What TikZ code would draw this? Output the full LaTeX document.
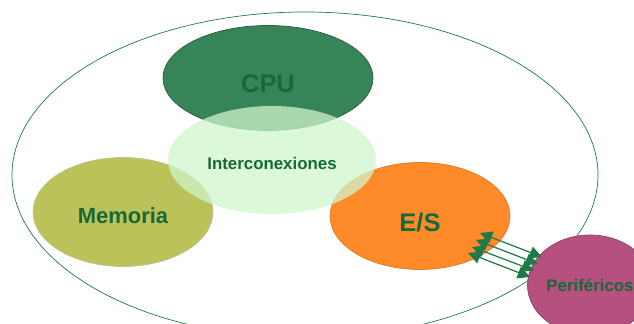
\documentclass[tikz,border=0pt]{standalone}
\usepackage{fontspec}
\setmainfont{Liberation Sans}
\definecolor{sysline}{HTML}{1F7A4A}
\definecolor{labelgreen}{HTML}{17683A}
\definecolor{cpufill}{HTML}{388459}
\definecolor{icfill}{HTML}{CFF5CB}
\definecolor{memfill}{HTML}{BCC25A}
\definecolor{esfill}{HTML}{FF8A2A}
\definecolor{perfill}{HTML}{B5507F}
\usetikzlibrary{shapes,arrows.meta,positioning,calc}

\begin{document}
\begin{tikzpicture}[
  block/.style={ellipse, inner sep=0pt, font=\bfseries, text=labelgreen, text depth=0pt},
  bus/.style={sysline, line width=0.7pt, {Triangle[length=7pt,width=7pt]}-{Triangle[length=7pt,width=7pt]}}
]
\useasboundingbox (0,0) rectangle (12.68,6.48);
\clip (0,0) rectangle (12.68,6.48);
% sistema
\draw[sysline, thin] (6.1,2.98) ellipse (5.86 and 3.26);
% bloques
\node[block, fill=memfill, draw=memfill!80!black!60, minimum width=3.6cm, minimum height=2.18cm,
  font=\fontsize{12.5}{14}\bfseries, text height=13.6pt]
  (mem) at (2.46,2.24) {Memoria};
\node[block, fill=esfill, draw=esfill!90!black, minimum width=3.6cm, minimum height=2.14cm,
  font=\fontsize{14.5}{16}\bfseries, text height=18pt]
  (es) at (8.4,2.16) {E/S};
\node[block, fill=cpufill, draw=cpufill!70!black, minimum width=4.2cm, minimum height=2.1cm,
  font=\fontsize{14.5}{16}\bfseries, text height=16pt]
  (cpu) at (5.36,4.92) {CPU};
\node[block, fill=icfill, fill opacity=0.75, text opacity=1, minimum width=4.16cm, minimum height=2.16cm,
  font=\fontsize{9.6}{11}\bfseries, text height=10.3pt]
  (ic) at (5.44,3.28) {Interconexiones};
\node[block, fill=perfill, draw=perfill!80!black, minimum width=2.5cm, minimum height=2cm,
  font=\fontsize{9.6}{11}\bfseries, text height=7pt]
  (per) at (11.8,0.78) {Periféricos};
% buses E/S - perifericos
\coordinate (es-1) at (9.6,1.82);
\coordinate (es-2) at (9.52,1.68);
\coordinate (es-3) at (9.44,1.54);
\coordinate (es-4) at (9.36,1.42);
\coordinate (per-1) at (10.84,1.34);
\coordinate (per-2) at (10.76,1.2);
\coordinate (per-3) at (10.68,1.07);
\coordinate (per-4) at (10.6,0.94);
\foreach \i in {1,...,4}
  \draw[bus] (es-\i) -- (per-\i);
\end{tikzpicture}
\end{document}
